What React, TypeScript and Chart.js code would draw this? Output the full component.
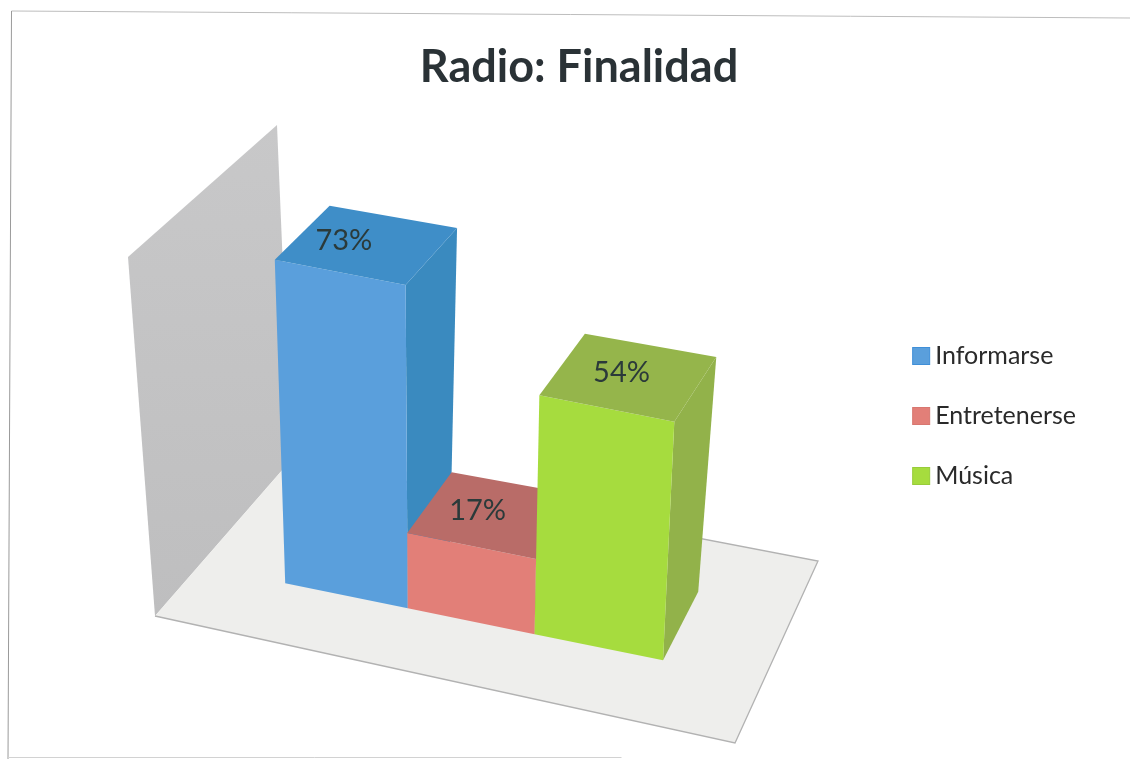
import React, { useEffect, useRef } from "react";
import { Chart, registerables } from "chart.js";

Chart.register(...registerables);

const categories = ["Informarse", "Entretenerse", "Música"];
const shares = [73, 17, 54];
const chartTitle = "Radio: Finalidad";
const axisMax = 80;

type Pt = [number, number];

// corners of the 3D box: bottom/top, s = across, d = depth
const B00: Pt = [155, 616];
const B10: Pt = [735, 745];
const B01: Pt = [278, 472];
const B11: Pt = [818, 562];
const T00: Pt = [128, 257];
const T10: Pt = [750, 386];
const T01: Pt = [277, 125];
const T11: Pt = [859, 219];

// frame corners as seen in the picture
const FLOOR_FRONT_LEFT: Pt = [155, 616];
const FLOOR_FRONT_RIGHT: Pt = [735, 743];
const FLOOR_BACK_RIGHT: Pt = [818, 561];
const FLOOR_BACK_LEFT: Pt = [291, 460];
const WALL_TOP_FRONT: Pt = [128, 257];
const WALL_TOP_BACK: Pt = [277, 125];

const S_START = 0.154;
const S_END = 0.8216;
const S_BEND = 1.025;
const D_FRONT = 0.35;
const D_BACK = 0.74;

const mix = (a: Pt, b: Pt, t: number): Pt => [a[0] + (b[0] - a[0]) * t, a[1] + (b[1] - a[1]) * t];

function project(s: number, d: number, h: number): Pt {
  const bottom = mix(mix(B00, B10, s), mix(B01, B11, s), d);
  const top = mix(mix(T00, T10, s), mix(T01, T11, s), d);
  return mix(bottom, top, h);
}

const frontColors = ["#5A9FDC", "#E27F78", "#A6DC3E"];
const topColors = ["#3F8EC8", "#B96C68", "#95B54B"];
const sideColors = ["#3A8ABF", "#A95F5C", "#92B24A"];
const legendEdges = ["#3F8FD8", "#D87770", "#98CC3A"];

function poly(ctx: CanvasRenderingContext2D, pts: Pt[], fill: any) {
  ctx.beginPath();
  pts.forEach((p, i) => (i ? ctx.lineTo(p[0], p[1]) : ctx.moveTo(p[0], p[1])));
  ctx.closePath();
  ctx.fillStyle = fill;
  ctx.fill();
}

const scene3d = {
  id: "scene3d",
  beforeDraw(chart: any) {
    const { ctx, width, height } = chart;
    ctx.save();
    ctx.lineWidth = 1;
    ctx.strokeStyle = "#bdbdbd";
    ctx.beginPath();
    ctx.moveTo(width, 18);
    ctx.lineTo(11.5, 11);
    ctx.stroke();
    ctx.strokeStyle = "#9a9a9a";
    ctx.beginPath();
    ctx.moveTo(11.5, 11);
    ctx.lineTo(8, height);
    ctx.stroke();
    ctx.strokeStyle = "#d2d2d2";
    ctx.beginPath();
    ctx.moveTo(8, height - 1.5);
    ctx.lineTo(width * 0.55, height - 1.5);
    ctx.stroke();
    ctx.restore();
  },
  beforeDatasetsDraw(chart: any) {
    const { ctx, chartArea } = chart;
    const W = chartArea.right - chartArea.left;
    const H = chartArea.bottom - chartArea.top;
    const meta = chart.getDatasetMeta(0);
    ctx.save();
    // wall
    const wall = ctx.createLinearGradient(0, 125, 0, 616);
    wall.addColorStop(0, "#C8C8C9");
    wall.addColorStop(1, "#BEBEBF");
    poly(ctx, [FLOOR_FRONT_LEFT, WALL_TOP_FRONT, WALL_TOP_BACK, FLOOR_BACK_LEFT], wall);
    // floor
    poly(ctx, [FLOOR_FRONT_LEFT, FLOOR_FRONT_RIGHT, FLOOR_BACK_RIGHT, FLOOR_BACK_LEFT], "#EEEEEC");
    ctx.strokeStyle = "#B2B2B2";
    ctx.lineWidth = 1.3;
    ctx.beginPath();
    ctx.moveTo(FLOOR_FRONT_LEFT[0], FLOOR_FRONT_LEFT[1]);
    ctx.lineTo(FLOOR_FRONT_RIGHT[0], FLOOR_FRONT_RIGHT[1]);
    ctx.lineTo(FLOOR_BACK_RIGHT[0], FLOOR_BACK_RIGHT[1]);
    ctx.lineTo(FLOOR_BACK_LEFT[0], FLOOR_BACK_LEFT[1]);
    ctx.stroke();
    // bars
    const labels: { text: string; at: Pt }[] = [];
    meta.data.forEach((bar: any, i: number) => {
      const p = bar.getProps(["x", "y", "base", "width"], true);
      const toS = (px: number) =>
        S_START + Math.pow(Math.max(0, (px - chartArea.left) / W), S_BEND) * (S_END - S_START);
      const s0 = toS(p.x - p.width / 2);
      const s1 = toS(p.x + p.width / 2);
      const h = (p.base - p.y) / H;
      poly(ctx, [project(s1, D_FRONT, 0), project(s1, D_FRONT, h), project(s1, D_BACK, h), project(s1, D_BACK, 0)], sideColors[i]);
      poly(ctx, [project(s0, D_FRONT, 0), project(s1, D_FRONT, 0), project(s1, D_FRONT, h), project(s0, D_FRONT, h)], frontColors[i]);
      poly(ctx, [project(s0, D_FRONT, h), project(s1, D_FRONT, h), project(s1, D_BACK, h), project(s0, D_BACK, h)], topColors[i]);
      labels.push({ text: `${shares[i]}%`, at: project((s0 + s1) / 2, (D_FRONT + D_BACK) / 2, h) });
    });
    ctx.font = "29px Lato";
    ctx.fillStyle = "#2B3A3A";
    ctx.textAlign = "center";
    ctx.textBaseline = "middle";
    labels.forEach((l) => ctx.fillText(l.text, l.at[0] - 16 + (l.at[0] - 482) * 0.06, l.at[1] - 4));
    ctx.restore();
    return false;
  },
  afterDraw(chart: any) {
    const { ctx, legend } = chart;
    ctx.save();
    legend.legendHitBoxes.forEach((box: any, i: number) => {
      const size = 17;
      const y = box.top + (box.height - size) / 2;
      ctx.fillStyle = frontColors[i];
      ctx.strokeStyle = legendEdges[i];
      ctx.lineWidth = 1;
      ctx.fillRect(box.left + 7, y, size, size);
      ctx.strokeRect(box.left + 7, y, size, size);
    });
    ctx.restore();
  },
};

export default function App() {
  const ref = useRef<HTMLCanvasElement>(null);
  useEffect(() => {
    const chart = new Chart(ref.current!, {
      type: "bar",
      data: {
        labels: categories,
        datasets: [
          {
            label: chartTitle,
            data: shares,
            backgroundColor: frontColors,
            borderColor: legendEdges,
            barPercentage: 1,
            categoryPercentage: 1,
          },
        ],
      },
      plugins: [scene3d],
      options: {
        responsive: false,
        animation: false,
        layout: { padding: { left: 72, right: 44, top: 40, bottom: 21 } },
        scales: {
          x: { display: false },
          y: { display: false, min: 0, max: axisMax },
        },
        plugins: {
          tooltip: { enabled: false },
          title: {
            display: true,
            text: chartTitle,
            color: "#2A3236",
            font: { family: "Lato", size: 45, weight: "bold" },
            padding: { top: 0, bottom: 0 },
          },
          legend: {
            position: "right",
            fullSize: false,
            labels: {
              boxWidth: 17,
              boxHeight: 17,
              padding: 35,
              color: "#2A2A2A",
              font: { family: "Lato", size: 25 },
              generateLabels: (c: any) =>
                c.data.labels.map((text: string, i: number) => ({
                  text,
                  fillStyle: "rgba(0,0,0,0)",
                  strokeStyle: "rgba(0,0,0,0)",
                  lineWidth: 0,
                  index: i,
                  datasetIndex: 0,
                  fontColor: "#2A2A2A",
                })),
            },
          },
        },
      },
    } as any);
    return () => chart.destroy();
  }, []);
  return (
    <div style={{ position: "absolute", left: 0, top: 0, width: 1130, height: 759, background: "#fff" }}>
      <canvas ref={ref} width={1130} height={759} style={{ display: "block" }} />
    </div>
  );
}
